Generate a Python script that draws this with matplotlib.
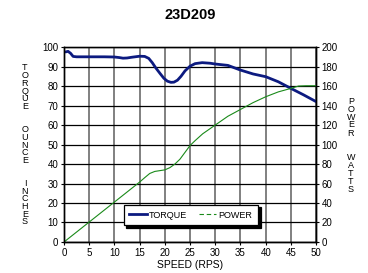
import matplotlib
matplotlib.use("Agg")
import matplotlib.pyplot as plt
from matplotlib.lines import Line2D

plt.rcParams['font.family'] = ['Liberation Sans', 'DejaVu Sans']

# torque curve (speed in RPS, torque in oz-in)
torque_speed = [0.3, 0.8, 1.3, 1.8, 2.5, 5, 8, 10, 11, 11.7, 12.5, 13.5, 15, 16,
                16.8, 17.5, 18.2, 19, 19.8, 20.5, 21.2, 21.8, 22.5, 23.2, 24,
                25, 26, 27.4, 29, 30, 32.5, 35, 37.5, 40, 42.5, 45, 47.5, 50]
torque = [97.5, 97.8, 96.8, 95.2, 95, 95, 95, 94.9, 94.6, 94.3, 94.4, 94.8, 95.3, 95.2,
          94.2, 92, 89.3, 86.6, 84, 82.5, 81.9, 82, 83, 85, 87.8,
          90.2, 91.5, 92, 91.7, 91.3, 90.6, 88.2, 86.2, 84.8, 82.2, 78.8, 75.5, 72]

# power curve (speed in RPS, power in watts)
power_speed = [0, 5, 10, 15, 16, 17, 18, 19, 20, 21, 22, 23, 24, 25, 26, 27.5,
               30, 32.5, 35, 37.5, 40, 42.5, 45, 46.5, 48, 50]
power = [0, 20.5, 41, 61.5, 66, 70.3, 72.4, 73.2, 74, 76.3, 80, 85, 92, 99, 104, 111,
         120, 129, 136, 143, 149, 154, 157.6, 160, 160.3, 160.3]

fig = plt.figure(figsize=(3.68, 2.73), dpi=100)
ax = fig.add_axes([0.174, 0.1136, 0.685, 0.714])
ax2 = ax.twinx()

ax.plot(torque_speed, torque, color='#0c1a80', lw=2.0, solid_capstyle='round',
        solid_joinstyle='round')
ax2.plot(power_speed, power, color='#1a8a1a', lw=0.8)

ax.set_xlim(0, 50)
ax.set_ylim(0, 100)
ax2.set_ylim(0, 200)
ax.set_xticks(range(0, 51, 5))
ax.set_yticks(range(0, 101, 10))
ax2.set_yticks(range(0, 201, 20))

ax.grid(axis='x', color='#808080', lw=1.4)
ax.grid(axis='y', color='black', lw=0.9)
ax.set_axisbelow(True)

for a in (ax, ax2):
    a.tick_params(labelsize=7, length=2, width=0.8, pad=2)
    for s in a.spines.values():
        s.set_color('black')
        s.set_linewidth(1.0)
ax.spines['top'].set_color('#707070')

ax.set_xlabel('SPEED (RPS)', fontsize=7.5, labelpad=2)
ax.set_title('23D209', fontsize=10.5, fontweight='bold', pad=20)

handles = [Line2D([], [], color='#0c1a80', lw=2.0),
           Line2D([], [], color='#1a8a1a', lw=0.8, ls=(0, (4, 2.5)))]
leg = ax2.legend(handles, ['TORQUE', 'POWER'], ncol=2, loc='center',
                 bbox_to_anchor=(0.503, 0.138),
                 fontsize=6.5, frameon=True, fancybox=False, handlelength=1.9,
                 handletextpad=0.25, borderpad=0.65, borderaxespad=0,
                 columnspacing=1.3,
                 shadow={'color': 'black', 'alpha': 1})
leg.get_frame().set_edgecolor('black')
leg.get_frame().set_linewidth(0.9)

# stacked vertical axis labels
left_text = 'TORQUE  OUNCE  INCHES'
for i, ch in enumerate(left_text):
    fig.text(25 / 368, 1 - (68 + i * 7.7) / 273, ch, fontsize=6.5,
             ha='center', va='center')
right_text = 'POWER  WATTS'
for i, ch in enumerate(right_text):
    fig.text(351 / 368, 1 - (101 + i * 8) / 273, ch, fontsize=6.5,
             ha='center', va='center')

fig.savefig('out.png', dpi=100)
